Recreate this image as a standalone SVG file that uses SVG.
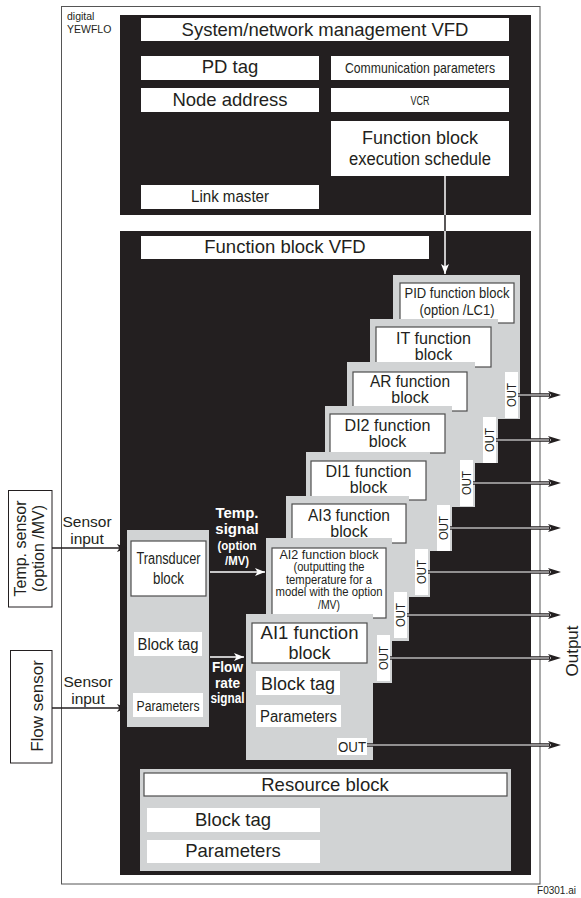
<svg xmlns="http://www.w3.org/2000/svg" width="581" height="898" viewBox="0 0 581 898">
<defs>
<style>
text{font-family:"Liberation Sans",Arial,sans-serif;fill:#231f20}
.blk{fill:#231f20}
.wb{fill:#ffffff}
.gb{fill:#d1d3d4}
.ib{fill:#ffffff;stroke:#4d4d4d;stroke-width:1.2}
.frame{fill:none;stroke:#555;stroke-width:1}
.sb{fill:#ffffff;stroke:#231f20;stroke-width:1}
.m{text-anchor:middle}
.fb{font-size:16px;text-anchor:middle}
.wt{fill:#ffffff;font-weight:bold;text-anchor:middle}
.outo{stroke:#231f20;stroke-width:3.4;fill:none}
.outi{stroke:#ffffff;stroke-width:1.1;fill:none}
.ah{fill:#231f20}
</style>
<marker id="arrB" viewBox="0 0 10 8" refX="10" refY="4" markerWidth="10" markerHeight="8" markerUnits="userSpaceOnUse" orient="auto">
<path d="M0,0 L10,4 L0,8 L2.5,4 Z" fill="#231f20"/>
</marker>
<marker id="arrW" viewBox="0 0 10 8" refX="10" refY="4" markerWidth="10" markerHeight="8" markerUnits="userSpaceOnUse" orient="auto">
<path d="M0,0 L10,4 L0,8 L2.5,4 Z" fill="#ffffff"/>
</marker>
</defs>
<rect x="0" y="0" width="581" height="898" fill="#ffffff"/>

<g id="device">
<rect class="frame" x="61.5" y="6.5" width="478.5" height="877.5"/>
<text x="67" y="20" font-size="10.5">digital</text>
<text x="67" y="33" font-size="10.5">YEWFLO</text>
</g>

<g id="system-network-vfd">
<rect class="blk" x="120" y="15" width="411" height="200"/>
<rect class="wb" x="141" y="18" width="368" height="23"/>
<text class="m" x="325" y="36" font-size="18.5">System/network management VFD</text>
<rect class="wb" x="141" y="56" width="178" height="24"/>
<text class="m" x="230" y="73" font-size="18.5">PD tag</text>
<rect class="wb" x="331" y="56" width="178" height="24"/>
<text class="m" x="420" y="73" font-size="15" textLength="150" lengthAdjust="spacingAndGlyphs">Communication parameters</text>
<rect class="wb" x="331" y="88" width="178" height="24"/>
<text class="m" x="420" y="104.5" font-size="12" textLength="19" lengthAdjust="spacingAndGlyphs">VCR</text>
<rect class="wb" x="141" y="88" width="178" height="24"/>
<text class="m" x="230" y="106" font-size="18.5">Node address</text>
<rect class="wb" x="331" y="121" width="178" height="55"/>
<text class="m" x="420" y="144" font-size="18">Function block</text>
<text class="m" x="420" y="165" font-size="18" textLength="142" lengthAdjust="spacingAndGlyphs">execution schedule</text>
<rect class="wb" x="141" y="185" width="178" height="24"/>
<text class="m" x="230" y="202" font-size="16" textLength="78" lengthAdjust="spacingAndGlyphs">Link master</text>
</g>

<g id="function-block-vfd">
<rect class="blk" x="120" y="231" width="411" height="644"/>
<rect class="wb" x="141" y="236" width="288" height="23"/>
<text class="m" x="285" y="253" font-size="18.5">Function block VFD</text>
</g>

<g id="pid-block">
<rect class="gb" x="393" y="275" width="127" height="144"/>
<rect class="ib" x="400" y="283" width="114" height="40"/>
<text class="m" x="457" y="298" font-size="14.5" textLength="105" lengthAdjust="spacingAndGlyphs">PID function block</text>
<text class="m" x="457" y="315" font-size="14.5" textLength="75" lengthAdjust="spacingAndGlyphs">(option /LC1)</text>
<rect class="wb" x="505" y="372" width="13" height="46"/>
<text class="m" transform="translate(516,395) rotate(-90)" font-size="13" textLength="24" lengthAdjust="spacingAndGlyphs">OUT</text>
</g>

<g id="it-block">
<rect class="gb" x="370" y="319" width="128" height="144"/>
<rect class="ib" x="376" y="327" width="115" height="40"/>
<text class="fb" x="433.5" y="344" textLength="75" lengthAdjust="spacingAndGlyphs">IT function</text>
<text class="fb" x="433.5" y="360">block</text>
<rect class="wb" x="483" y="417" width="13" height="46"/>
<text class="m" transform="translate(494,440) rotate(-90)" font-size="13" textLength="24" lengthAdjust="spacingAndGlyphs">OUT</text>
</g>

<g id="ar-block">
<rect class="gb" x="347" y="362" width="128" height="145"/>
<rect class="ib" x="353" y="372" width="114" height="39"/>
<text class="fb" x="410" y="387" textLength="80" lengthAdjust="spacingAndGlyphs">AR function</text>
<text class="fb" x="410" y="403">block</text>
<rect class="wb" x="460" y="460" width="13" height="46"/>
<text class="m" transform="translate(471,483) rotate(-90)" font-size="13" textLength="24" lengthAdjust="spacingAndGlyphs">OUT</text>
</g>

<g id="di2-block">
<rect class="gb" x="325" y="406" width="127" height="145"/>
<rect class="ib" x="330" y="414" width="115" height="39"/>
<text class="fb" x="387.5" y="431" textLength="86" lengthAdjust="spacingAndGlyphs">DI2 function</text>
<text class="fb" x="387.5" y="447">block</text>
<rect class="wb" x="437" y="505" width="13" height="46"/>
<text class="m" transform="translate(448,528) rotate(-90)" font-size="13" textLength="24" lengthAdjust="spacingAndGlyphs">OUT</text>
</g>

<g id="di1-block">
<rect class="gb" x="306" y="452" width="124" height="145"/>
<rect class="ib" x="311" y="461" width="115" height="39"/>
<text class="fb" x="368.5" y="477" textLength="86" lengthAdjust="spacingAndGlyphs">DI1 function</text>
<text class="fb" x="368.5" y="493">block</text>
<rect class="wb" x="415" y="549" width="13" height="46"/>
<text class="m" transform="translate(426,572) rotate(-90)" font-size="13" textLength="24" lengthAdjust="spacingAndGlyphs">OUT</text>
</g>

<g id="ai3-block">
<rect class="gb" x="286" y="496" width="123" height="145"/>
<rect class="ib" x="292" y="504" width="114" height="39"/>
<text class="fb" x="349" y="521" textLength="82" lengthAdjust="spacingAndGlyphs">AI3 function</text>
<text class="fb" x="349" y="537">block</text>
<rect class="wb" x="394" y="592" width="13" height="46"/>
<text class="m" transform="translate(405,615) rotate(-90)" font-size="13" textLength="24" lengthAdjust="spacingAndGlyphs">OUT</text>
</g>

<g id="ai2-block">
<rect class="gb" x="266" y="538" width="126" height="145"/>
<rect class="ib" x="272" y="548" width="114" height="70"/>
<text class="m" x="329" y="558.5" font-size="12" textLength="99" lengthAdjust="spacingAndGlyphs">AI2 function block</text>
<text class="m" x="329" y="571" font-size="12" textLength="71" lengthAdjust="spacingAndGlyphs">(outputting the</text>
<text class="m" x="329" y="583.5" font-size="12" textLength="86" lengthAdjust="spacingAndGlyphs">temperature for a</text>
<text class="m" x="329" y="596" font-size="12" textLength="107" lengthAdjust="spacingAndGlyphs">model with the option</text>
<text class="m" x="329" y="608.5" font-size="12" textLength="22" lengthAdjust="spacingAndGlyphs">/MV)</text>
<rect class="wb" x="377" y="635" width="13" height="46"/>
<text class="m" transform="translate(388,658) rotate(-90)" font-size="13" textLength="24" lengthAdjust="spacingAndGlyphs">OUT</text>
</g>

<g id="ai1-block">
<rect class="gb" x="246" y="614" width="127" height="146"/>
<rect class="ib" x="252" y="623" width="115" height="40"/>
<text class="m" x="309.5" y="639" font-size="18" textLength="98" lengthAdjust="spacingAndGlyphs">AI1 function</text>
<text class="m" x="309.5" y="659" font-size="18">block</text>
<rect class="wb" x="256" y="671" width="84" height="24"/>
<text class="m" x="298" y="690" font-size="18">Block tag</text>
<rect class="wb" x="256" y="705" width="85" height="22"/>
<text class="m" x="298.5" y="722" font-size="16" textLength="77" lengthAdjust="spacingAndGlyphs">Parameters</text>
<rect class="wb" x="337" y="738" width="30" height="17"/>
<text class="m" x="352" y="751.5" font-size="14" textLength="28" lengthAdjust="spacingAndGlyphs">OUT</text>
</g>

<g id="transducer-block">
<rect class="gb" x="127" y="530" width="82" height="197"/>
<rect class="ib" x="131" y="541" width="75" height="55"/>
<text class="m" x="168.5" y="564" font-size="16" textLength="64" lengthAdjust="spacingAndGlyphs">Transducer</text>
<text class="m" x="168.5" y="584" font-size="16" textLength="31" lengthAdjust="spacingAndGlyphs">block</text>
<rect class="wb" x="134" y="632" width="68" height="24"/>
<text class="m" x="168" y="650" font-size="16" textLength="61" lengthAdjust="spacingAndGlyphs">Block tag</text>
<rect class="wb" x="133" y="693" width="70" height="24"/>
<text class="m" x="168" y="711" font-size="14" textLength="63" lengthAdjust="spacingAndGlyphs">Parameters</text>
</g>

<g id="resource-block">
<rect class="gb" x="140" y="769" width="371" height="102"/>
<rect class="ib" x="144" y="773" width="363" height="23"/>
<text class="m" x="325" y="791" font-size="18.5">Resource block</text>
<rect class="wb" x="147" y="808" width="173" height="24"/>
<text class="m" x="233" y="826" font-size="18.5">Block tag</text>
<rect class="wb" x="147" y="840" width="173" height="23"/>
<text class="m" x="233" y="857" font-size="18.5">Parameters</text>
</g>

<g id="temp-sensor">
<rect class="sb" x="8.5" y="490.5" width="43.5" height="116.5"/>
<text class="m" transform="translate(26,548.5) rotate(-90)" font-size="16">Temp. sensor</text>
<text class="m" transform="translate(44,548.5) rotate(-90)" font-size="16">(option /MV)</text>
</g>

<g id="flow-sensor">
<rect class="sb" x="10.5" y="650.5" width="41.5" height="112.5"/>
<text class="m" transform="translate(43,706) rotate(-90)" font-size="17">Flow sensor</text>
</g>

<g id="output-label">
<text class="m" transform="translate(578,651) rotate(-90)" font-size="17">Output</text>
<text x="576" y="894" font-size="10" text-anchor="end">F0301.ai</text>
</g>

<g id="connectors">
<line x1="445" y1="176" x2="445" y2="231" stroke="#231f20" stroke-width="1.5"/>
<line x1="445" y1="176" x2="445" y2="215" stroke="#ffffff" stroke-width="1.5"/>
<line x1="445" y1="231" x2="445" y2="274" stroke="#ffffff" stroke-width="1.5" marker-end="url(#arrW)"/>

<line x1="52" y1="548" x2="127" y2="548" stroke="#231f20" stroke-width="1.3" marker-end="url(#arrB)"/>
<text class="m" x="87" y="527" font-size="15.5">Sensor</text>
<text class="m" x="87" y="544" font-size="15.5">input</text>
<line x1="52" y1="708" x2="127" y2="708" stroke="#231f20" stroke-width="1.3" marker-end="url(#arrB)"/>
<text class="m" x="88" y="687" font-size="15.5">Sensor</text>
<text class="m" x="88" y="704" font-size="15.5">input</text>

<line x1="210" y1="572" x2="265" y2="572" stroke="#ffffff" stroke-width="1.4" marker-end="url(#arrW)"/>
<text class="wt" x="237" y="518" font-size="15">Temp.</text>
<text class="wt" x="237" y="534" font-size="15">signal</text>
<text class="wt" x="237" y="549.5" font-size="13.5" textLength="39" lengthAdjust="spacingAndGlyphs">(option</text>
<text class="wt" x="237" y="565" font-size="13.5" textLength="24" lengthAdjust="spacingAndGlyphs">/MV)</text>

<line x1="210" y1="657" x2="244" y2="657" stroke="#ffffff" stroke-width="1.4" marker-end="url(#arrW)"/>
<text class="wt" x="227.5" y="672" font-size="14" textLength="31" lengthAdjust="spacingAndGlyphs">Flow</text>
<text class="wt" x="227.5" y="688" font-size="14" textLength="25" lengthAdjust="spacingAndGlyphs">rate</text>
<text class="wt" x="227.5" y="703" font-size="14" textLength="34" lengthAdjust="spacingAndGlyphs">signal</text>

<g id="out-arrows">
<path class="outo" d="M518,395 H550 M496,440 H550 M473,483 H550 M450,528 H550 M428,572 H550 M407,615 H550 M390,658 H550 M367,745 H550"/>
<path class="outi" d="M518,395 H549 M496,440 H549 M473,483 H549 M450,528 H549 M428,572 H549 M407,615 H549 M390,658 H549 M367,745 H549"/>
<path class="ah" d="M561,395 l-13,-4 l3,4 l-3,4 Z M561,440 l-13,-4 l3,4 l-3,4 Z M561,483 l-13,-4 l3,4 l-3,4 Z M561,528 l-13,-4 l3,4 l-3,4 Z M561,572 l-13,-4 l3,4 l-3,4 Z M561,615 l-13,-4 l3,4 l-3,4 Z M561,658 l-13,-4 l3,4 l-3,4 Z M561,745 l-13,-4 l3,4 l-3,4 Z"/>
</g>
</g>
</svg>
